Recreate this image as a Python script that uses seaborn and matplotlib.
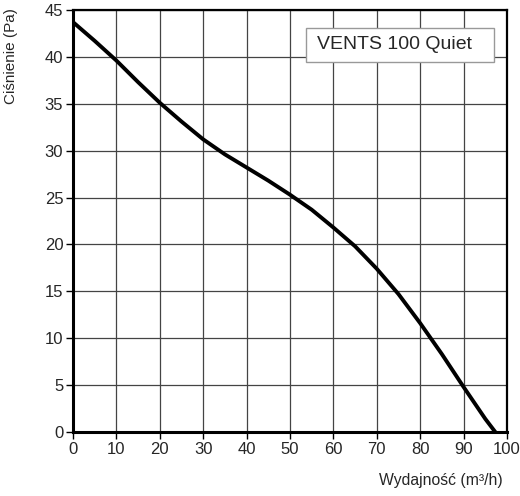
import matplotlib
matplotlib.use('Agg')
import matplotlib.pyplot as plt
from matplotlib.patches import Rectangle
import seaborn as sns
import pandas as pd

flow = [0, 5, 10, 15, 20, 25, 30, 35, 40, 45, 50, 55, 60, 65, 70, 75, 80, 85, 90, 95, 97.3]
pressure = [43.7, 41.7, 39.6, 37.3, 35.1, 33.1, 31.2, 29.6, 28.2, 26.8, 25.3, 23.7, 21.8, 19.8, 17.4, 14.7, 11.6, 8.3, 4.8, 1.4, 0]
xticks = list(range(0, 101, 10))
yticks = list(range(0, 46, 5))
title = 'VENTS 100 Quiet'

df = pd.DataFrame({'q': flow, 'p': pressure})

sns.set_style('white')
plt.rcParams['font.family'] = ['Liberation Sans', 'DejaVu Sans']

fig = plt.figure(figsize=(5.2, 4.96), dpi=100)
ax = fig.add_axes([0.1404, 0.129, 0.8346, 0.851])

sns.lineplot(data=df, x='q', y='p', color='black', linewidth=2.8, ax=ax)

ax.set_xlim(0, 100)
ax.set_ylim(0, 45)
ax.set_xticks(xticks)
ax.set_yticks(yticks)
ax.tick_params(axis='both', labelsize=12, length=5, width=1, color='black',
               direction='out', bottom=True, left=True, pad=2)
ax.grid(True, color='#444444', linewidth=0.9)

for s in ['left', 'bottom']:
    ax.spines[s].set_linewidth(2.2)
    ax.spines[s].set_color('black')
for s in ['top', 'right']:
    ax.spines[s].set_linewidth(1.6)
    ax.spines[s].set_color('black')

ax.set_xlabel('Wydajność (m³/h)', fontsize=11.3)
ax.set_ylabel('Ciśnienie (Pa)', fontsize=11)
ax.xaxis.set_label_coords(0.848, -0.097)
ax.yaxis.set_label_coords(-0.127, 0.891)

ax.add_patch(Rectangle((0.537, 0.877), 0.433, 0.08, transform=ax.transAxes,
                       facecolor='white', edgecolor='#999999', linewidth=1, zorder=3))
ax.text(0.740, 0.917, title, transform=ax.transAxes, fontsize=14,
        ha='center', va='center', zorder=4)

fig.savefig('out.png', dpi=100)
